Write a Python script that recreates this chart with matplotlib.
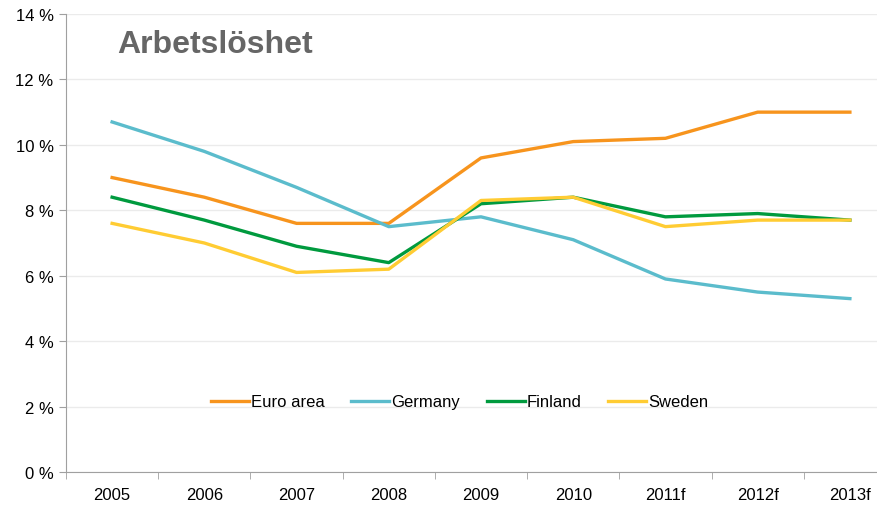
import matplotlib.pyplot as plt
from matplotlib.ticker import FixedLocator, FuncFormatter

plt.rcParams['font.family'] = ['Liberation Sans', 'DejaVu Sans']

# Data
years = ['2005', '2006', '2007', '2008', '2009', '2010', '2011f', '2012f', '2013f']
euro_area = [9.0, 8.4, 7.6, 7.6, 9.6, 10.1, 10.2, 11.0, 11.0]
germany = [10.7, 9.8, 8.7, 7.5, 7.8, 7.1, 5.9, 5.5, 5.3]
finland = [8.4, 7.7, 6.9, 6.4, 8.2, 8.4, 7.8, 7.9, 7.7]
sweden = [7.6, 7.0, 6.1, 6.2, 8.3, 8.4, 7.5, 7.7, 7.7]

fig = plt.figure(figsize=(8.77, 5.06), dpi=100)
ax = fig.add_axes([66 / 877, 33 / 506, 830 / 877, 458 / 506])

x = list(range(len(years)))
lw = 2.4
ax.plot(x, euro_area, color='#F7941D', lw=lw, label='Euro area')
ax.plot(x, germany, color='#5BBCCC', lw=lw, label='Germany')
ax.plot(x, finland, color='#009A3E', lw=lw, label='Finland')
ax.plot(x, sweden, color='#FFCC33', lw=lw, label='Sweden')

ax.set_xlim(-0.5, len(years) - 0.5)
ax.set_ylim(0, 14)
ax.set_yticks(range(0, 15, 2))
ax.yaxis.set_major_formatter(FuncFormatter(lambda v, p: f'{int(v)} %'))
ax.set_xticks(x)
ax.set_xticklabels(years)
ax.xaxis.set_minor_locator(FixedLocator([i - 0.5 for i in range(len(years) + 1)]))
ax.tick_params(axis='x', which='major', length=0, pad=11, labelsize=12)
ax.tick_params(axis='x', which='minor', length=5, color='#A0A0A0', direction='out')
ax.tick_params(axis='y', length=5, color='#A0A0A0', labelsize=12, pad=4)

ax.grid(axis='y', color='#EBEBEB', lw=1)
ax.set_axisbelow(True)
for s in ['top', 'right']:
    ax.spines[s].set_visible(False)
ax.spines['left'].set_color('#A0A0A0')
ax.spines['bottom'].set_color('#A0A0A0')

ax.text(0.062, 0.935, 'Arbetslöshet', transform=ax.transAxes, fontsize=23,
        fontweight='bold', color='#666666', va='center')

ax.legend(loc='center', bbox_to_anchor=(0.474, 0.153), ncol=4, frameon=False,
          fontsize=12, handlelength=2.3, handletextpad=0.1, columnspacing=1.6)

fig.savefig('out.png', dpi=100)
